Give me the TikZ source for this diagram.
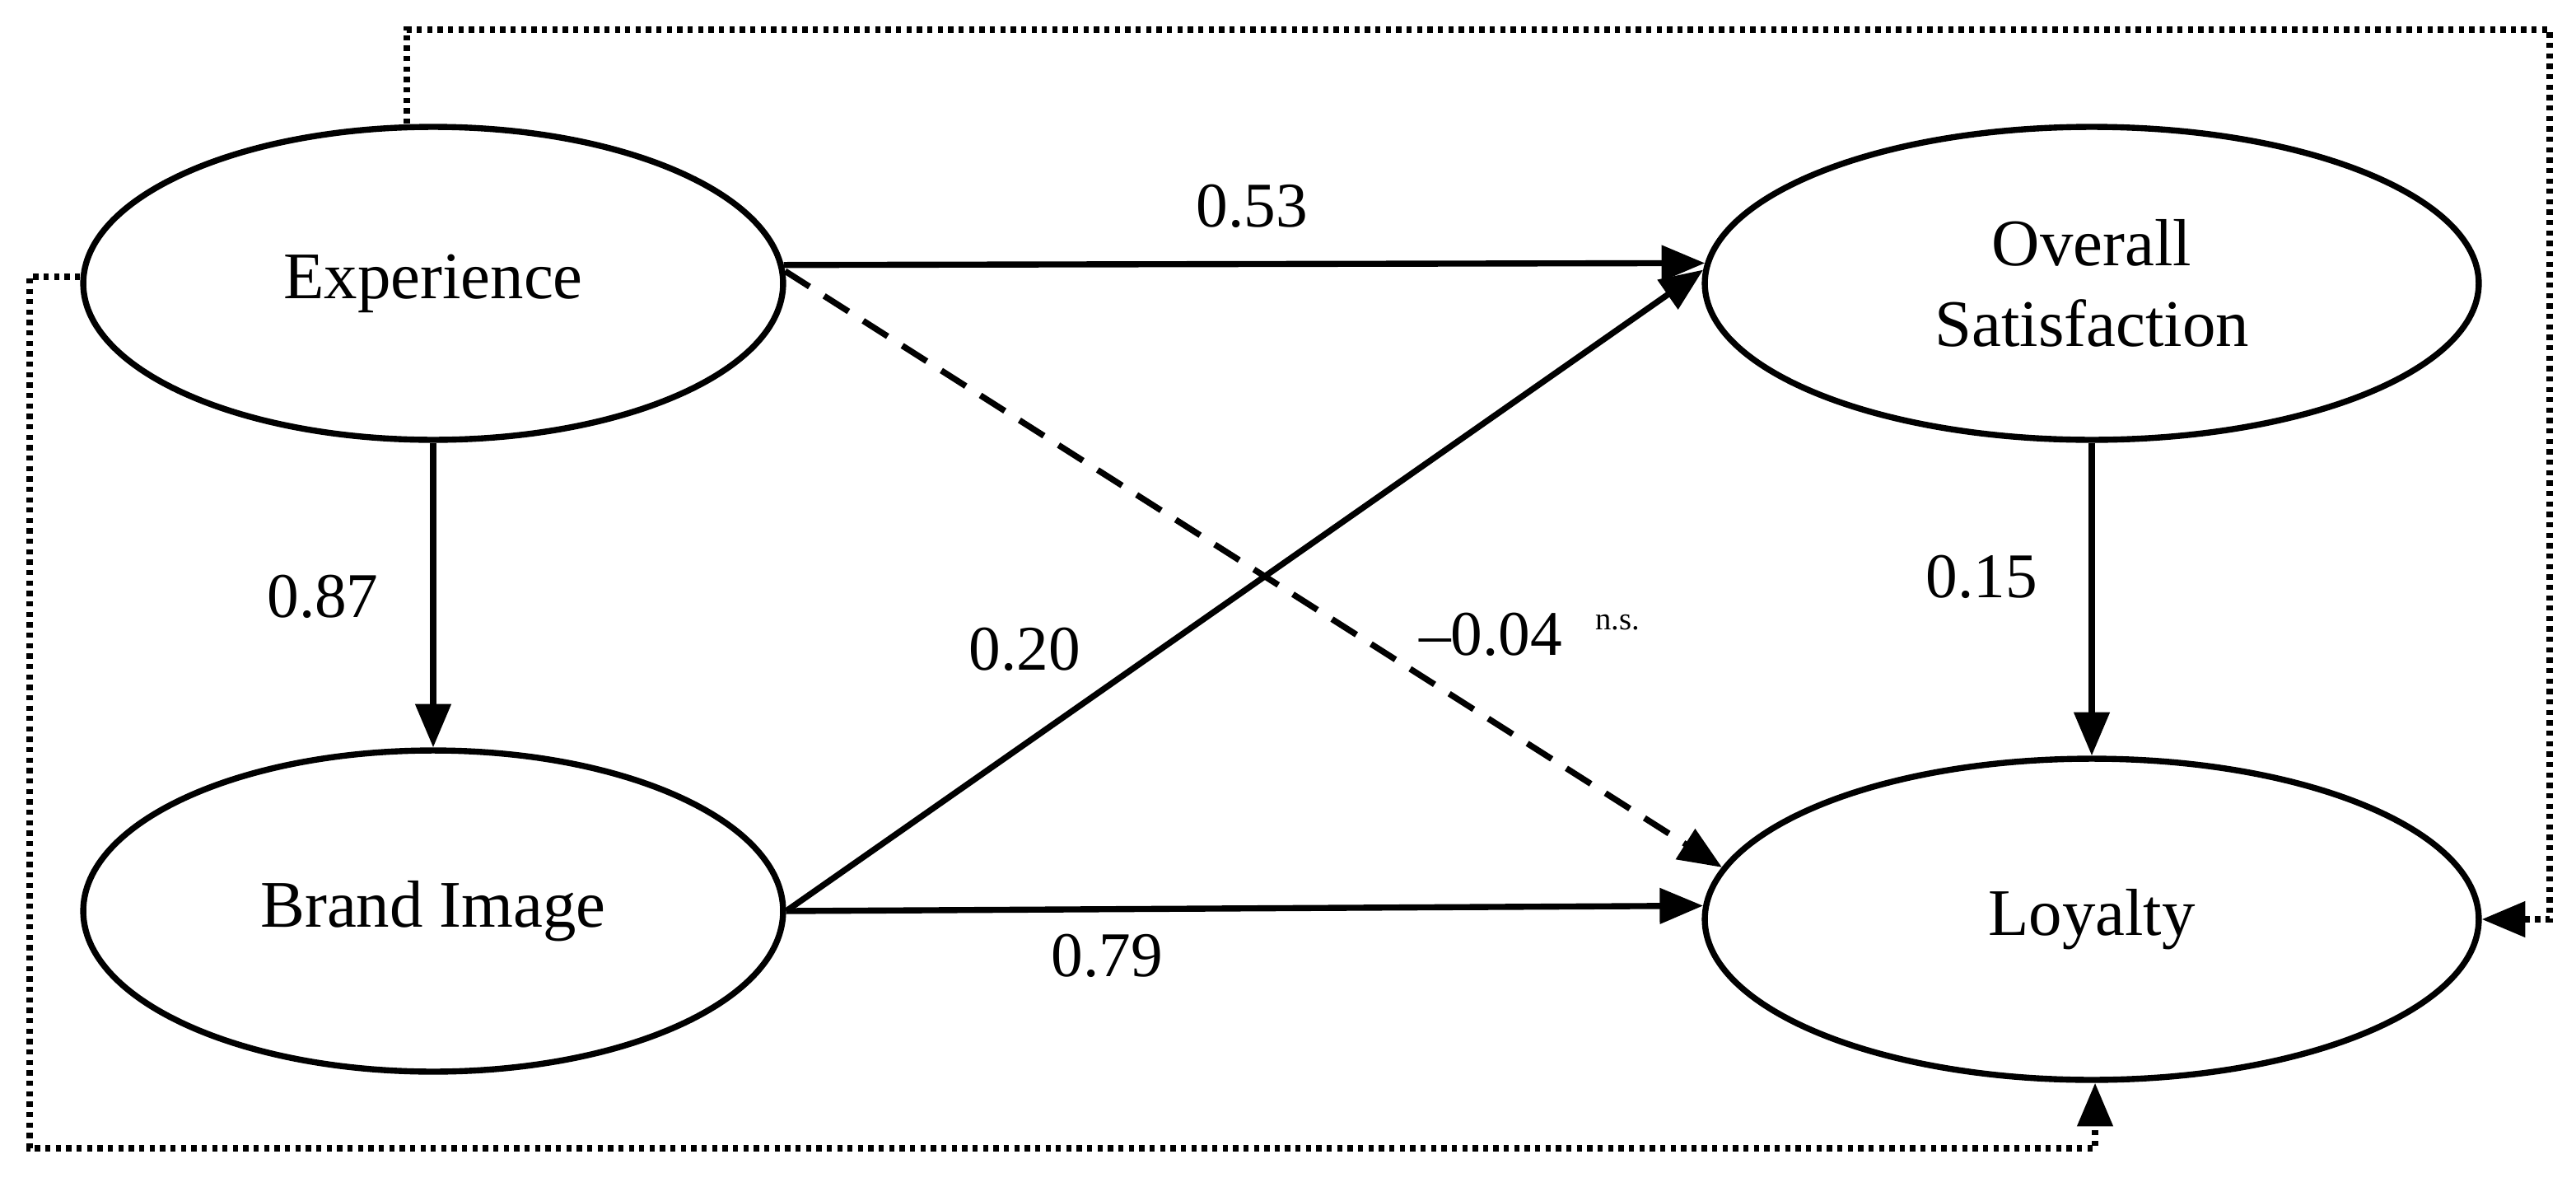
\documentclass[tikz,border=0pt]{standalone}
\usepackage{fontspec}
\setmainfont{Liberation Serif}
\usetikzlibrary{arrows.meta,shapes.geometric}
\begin{document}
\begin{tikzpicture}[x=0.02cm,y=-0.02cm,
  lv/.style={ellipse,draw,line width=2.1pt,minimum width=8.5cm,minimum height=3.8cm,inner sep=0pt,align=center,font=\fontsize{23}{28}\selectfont},
  pa/.style={line width=2.1pt,-{Triangle[length=15pt,width=12pt]}},
  dt/.style={line width=2.1pt,dash pattern=on 1.8pt off 1.8pt,-{Triangle[length=15pt,width=12pt]}},
  lb/.style={font=\fontsize{22}{26}\selectfont}]
\useasboundingbox (0,0) rectangle (1564,720);
\node[lv] (exp) at (263,172) {Experience};
\node[lv,minimum height=3.9cm] (bri) at (263,553) {Brand Image};
\node[lv,minimum width=9.4cm] (ov) at (1270,172) {Overall\\Satisfaction};
\node[lv,minimum width=9.4cm,minimum height=3.9cm] (loy) at (1270,558) {Loyalty};
\draw[pa] (exp.3) -- (ov.177);
\draw[pa,dash pattern=on 10pt off 6pt] (exp.2) -- (loy.172);
\draw[pa] (exp.south) -- (bri.north);
\draw[pa] (bri.east) -- (ov.178);
\draw[pa] (bri.east) -- (loy.178);
\draw[pa] (ov.south) -- (loy.north);
\coordinate (c1) at (18,168);
\coordinate (c2) at (18,697);
\coordinate (c3) at (1272,697);
\coordinate (d1) at (247,18);
\coordinate (d2) at (1548,18);
\coordinate (d3) at (1548,558);
\draw[dt] (exp.west |- c1) -- (c1) -- (c2) -- (c3) -- (loy.south -| c3);
\draw[dt] (exp.north -| d1) -- (d1) -- (d2) -- (d3) -- (loy.east);
\node[lb] at (760,125) {0.53};
\node[lb] at (196,362) {0.87};
\node[lb] at (622,394) {0.20};
\node[lb] at (905,385) {--0.04};
\node[font=\fontsize{11}{13}\selectfont] at (982,378) {n.s.};
\node[lb] at (1203,350) {0.15};
\node[lb] at (672,580) {0.79};
\end{tikzpicture}
\end{document}
